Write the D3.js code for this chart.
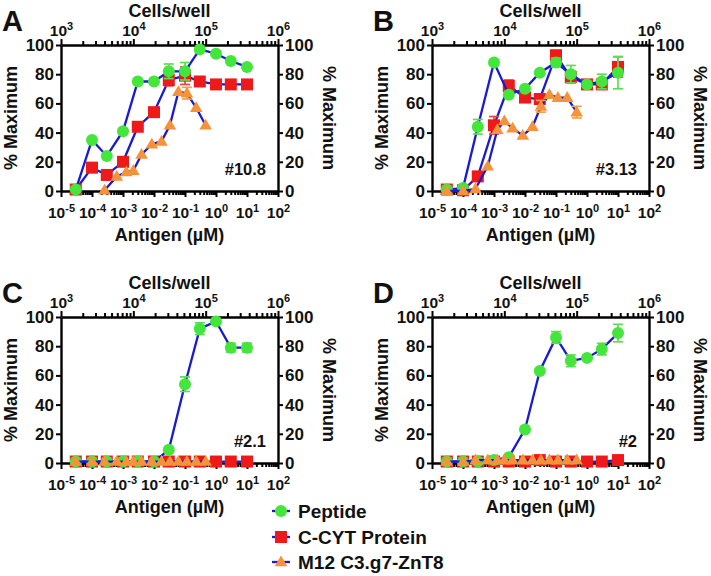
<!DOCTYPE html>
<html><head><meta charset="utf-8">
<script src="https://cdn.jsdelivr.net/npm/d3@7"></script>
<style>
body{margin:0;background:#fff}
text{font-family:"Liberation Sans",Arial,Helvetica,sans-serif;font-weight:bold;fill:#111}
</style>
</head><body>
<svg id="chart" width="711" height="576"></svg>
<script>
// ---------- data ----------
const antigenConc = [3e-5,1e-4,3e-4,1e-3,3e-3,1e-2,3e-2,1e-1,3e-1,1,3,10];
const cellsPerWell = [1600,2700,4000,5900,8000,10000,13000,18000,24500,32000,42000,55000,74000,100000];

const peptideA    = [1,35,24,41,75,75,82,82,97,94,89,85];
const peptideAErr = [0,0,0,0,0,0,5,6,0,0,0,0];
const cytA        = [1,16,11,20,44,54,76,79,75,73,73,73];
const cytAErr     = [0,0,0,0,0,0,4,6,0,3,0,0];
const m12A        = [null,null,0.5,10,13,14,25,32,34,45,68,67,57,45];
const m12AErr     = [0,0,0,0,0,0,0,0,0,0,0,4,0,0];

const peptideB    = [1,2,44,88,66,70,81,88,80,73,75,81];
const peptideBErr = [0,0,5,0,0,0,0,3,6,0,5,11];
const cytB        = [1,0.5,10,45,72,64,63,93,78,73,73,85];
const cytBErr     = [0,0,0,6,4,0,3,3,4,0,0,7];
const m12B        = [0,0,1.5,17,42,48,43,38,44,58,66,64,64,54];
const m12BErr     = [0,0,0,0,0,0,0,0,0,4,0,0,0,4];

const peptideC    = [1,1,1,1,1,1,9,54,92,97,79,79];
const peptideCErr = [0,0,0,0,0,0,0,5,4,0,3,3];
const cytC        = [1,1,1,1,1,1,1,1,1,1,1,1];
const cytCErr     = [0,0,0,0,0,0,0,0,0,0,0,0];
const m12C        = [1,1,1,1,1,1,1,1,1,1,1,1,1,1];
const m12CErr     = [0,0,0,0,0,0,0,0,0,0,0,0,0,0];

const peptideD    = [1,1,1,2,4,23,63,86,70,72,78,89];
const peptideDErr = [0,0,0,0,0,0,0,4,4,0,4,6];
const cytD        = [1,1,1,1,1,1,2,1,1,1,1,2];
const cytDErr     = [0,0,0,0,0,0,0,0,0,0,0,0];
const m12D        = [1,1,2,2,2,2,2,2,2,2,2,2,2,2];
const m12DErr     = [0,0,0,0,0,0,0,0,0,0,0,0,0,0];

const seriesNames   = ["Peptide","C-CYT Protein","M12 C3.g7-ZnT8"];
const panelLetters  = ["A","B","C","D"];
const cloneLabels   = ["#10.8","#3.13","#2.1","#2"];
const antigenExps   = [-5,-4,-3,-2,-1,0,1,2];
const cellExps      = [3,4,5,6];
const yTicks        = [0,20,40,60,80,100];

// ---------- style ----------
const BLUE = "#1a1ad0";
const GREEN = "#44e63c", GREEN_ERR = "#5fdc55";
const RED = "#ee1a1a", RED_ERR = "#f04040";
const ORANGE = "#f5923a", ORANGE_ERR = "#f5a050";
const W = 217, H = 146;

const svg = d3.select("#chart");

const panels = [
  {x:61, y:45, pep:peptideA, pepE:peptideAErr, cyt:cytA, cytE:cytAErr, m12:m12A, m12E:m12AErr},
  {x:432,y:45, pep:peptideB, pepE:peptideBErr, cyt:cytB, cytE:cytBErr, m12:m12B, m12E:m12BErr},
  {x:61, y:317,pep:peptideC, pepE:peptideCErr, cyt:cytC, cytE:cytCErr, m12:m12C, m12E:m12CErr},
  {x:432,y:317,pep:peptideD, pepE:peptideDErr, cyt:cytD, cytE:cytDErr, m12:m12D, m12E:m12DErr}
];

function minorTicks(exps){
  const out=[];
  for(let i=0;i<exps.length-1;i++) for(let k=2;k<=9;k++) out.push(k*Math.pow(10,exps[i]));
  return out;
}

function marker(sel, kind, size){
  if(kind==="circle"){
    sel.append("circle").attr("r",size/2).attr("fill",GREEN);
  } else if(kind==="square"){
    sel.append("rect").attr("x",-size/2).attr("y",-size/2).attr("width",size).attr("height",size).attr("fill",RED);
  } else {
    const h=size*0.9, w=size*1.05;
    sel.append("path").attr("d",`M0,${-h*0.6}L${w/2},${h*0.4}L${-w/2},${h*0.4}Z`).attr("fill",ORANGE);
  }
}

function powLabel(textSel, exp){
  textSel.text(null);
  textSel.append("tspan").attr("font-size","15.5px").text("10");
  textSel.append("tspan").attr("font-size","11px").attr("dy","-6").text(exp<0?"-"+Math.abs(exp):String(exp));
}

panels.forEach((p,pi)=>{
  const g = svg.append("g").attr("transform",`translate(${p.x},${p.y})`);
  const x  = d3.scaleLog().domain([Math.pow(10,antigenExps[0]),Math.pow(10,antigenExps[antigenExps.length-1])]).range([0,W]);
  const xt = d3.scaleLog().domain([Math.pow(10,cellExps[0]),Math.pow(10,cellExps[cellExps.length-1])]).range([0,W]);
  const y  = d3.scaleLinear().domain([0,100]).range([H,0]);

  // bottom axis
  g.append("g").attr("transform",`translate(0,${H})`)
    .call(d3.axisBottom(x).tickValues(minorTicks(antigenExps)).tickSize(4).tickFormat("")).select(".domain").remove();
  const gbM = g.append("g").attr("transform",`translate(0,${H})`)
    .call(d3.axisBottom(x).tickValues(antigenExps.map(e=>Math.pow(10,e))).tickSize(6).tickSizeOuter(0).tickPadding(4));
  gbM.attr("font-size",null);
  gbM.selectAll(".tick text").each(function(d,i){ powLabel(d3.select(this), antigenExps[i]); })
    .attr("dy","1.05em");

  // top axis
  g.append("g").call(d3.axisTop(xt).tickValues(minorTicks(cellExps)).tickSize(4).tickFormat("")).select(".domain").remove();
  const gtM = g.append("g").call(d3.axisTop(xt).tickValues(cellExps.map(e=>Math.pow(10,e))).tickSize(6).tickSizeOuter(0).tickPadding(3));
  gtM.attr("font-size",null);
  gtM.selectAll(".tick text").each(function(d,i){ powLabel(d3.select(this), cellExps[i]); });

  // left / right axes
  const gl = g.append("g").call(d3.axisLeft(y).tickValues(yTicks).tickSize(5).tickSizeOuter(0).tickPadding(2));
  const gr = g.append("g").attr("transform",`translate(${W},0)`).call(d3.axisRight(y).tickValues(yTicks).tickSize(5).tickSizeOuter(0).tickPadding(2));
  [gl,gr].forEach(a=>{ a.attr("font-size",null); a.selectAll(".tick text").attr("font-size","17px"); });

  g.selectAll(".domain").attr("stroke","#000").attr("stroke-width",2.4);
  g.selectAll(".tick line").attr("stroke","#000").attr("stroke-width",2);
  g.selectAll("g").attr("font-family",null);
  g.selectAll(".tick text").attr("fill","#111");

  // titles
  g.append("text").attr("x",W/2).attr("y",-28).attr("text-anchor","middle").attr("font-size","18px").text("Cells/well");
  g.append("text").attr("x",W/2).attr("y",H+50).attr("text-anchor","middle").attr("font-size","18px").text("Antigen (µM)");
  g.append("text").attr("transform",`translate(-44,${H/2}) rotate(-90)`).attr("text-anchor","middle").attr("font-size","18px").text("% Maximum");
  g.append("text").attr("transform",`translate(${W+45},${H/2}) rotate(90)`).attr("text-anchor","middle").attr("font-size","18px").text("% Maximum");
  g.append("text").attr("x",-59).attr("y",-14).attr("font-size","29px").text(panelLetters[pi]);
  g.append("text").attr("x",W-12).attr("y",H-16).attr("text-anchor","end").attr("font-size","16.5px").text(cloneLabels[pi]);

  // series (draw order: C-CYT, Peptide, M12)
  const series = [
    {xs:antigenConc,  sx:x,  v:p.cyt, e:p.cytE, kind:"square",   ec:RED_ERR},
    {xs:antigenConc,  sx:x,  v:p.pep, e:p.pepE, kind:"circle",   ec:GREEN_ERR},
    {xs:cellsPerWell, sx:xt, v:p.m12, e:p.m12E, kind:"triangle", ec:ORANGE_ERR}
  ];
  series.forEach(s=>{
    const pts = s.xs.map((xv,i)=>({x:xv,y:s.v[i],e:s.e[i]})).filter(d=>d.y!=null);
    const sg = g.append("g");
    sg.append("path").datum(pts)
      .attr("d",d3.line().x(d=>s.sx(d.x)).y(d=>y(d.y)))
      .attr("fill","none").attr("stroke",BLUE).attr("stroke-width",2.3);
    const eb = sg.selectAll(".eb").data(pts.filter(d=>d.e>0)).enter().append("g")
      .attr("stroke",s.ec).attr("stroke-width",1.7);
    eb.append("line").attr("x1",d=>s.sx(d.x)).attr("x2",d=>s.sx(d.x)).attr("y1",d=>y(d.y-d.e)).attr("y2",d=>y(d.y+d.e));
    eb.append("line").attr("x1",d=>s.sx(d.x)-5).attr("x2",d=>s.sx(d.x)+5).attr("y1",d=>y(d.y-d.e)).attr("y2",d=>y(d.y-d.e));
    eb.append("line").attr("x1",d=>s.sx(d.x)-5).attr("x2",d=>s.sx(d.x)+5).attr("y1",d=>y(d.y+d.e)).attr("y2",d=>y(d.y+d.e));
    sg.selectAll(".mk").data(pts).enter().append("g")
      .attr("transform",d=>`translate(${s.sx(d.x)},${y(d.y)})`)
      .each(function(){ marker(d3.select(this), s.kind, 12); });
  });
});

// legend
const legKinds = ["circle","square","triangle"];
const legY = [511,537,562];
seriesNames.forEach((name,i)=>{
  const lg = svg.append("g").attr("transform",`translate(281,${legY[i]})`);
  lg.append("line").attr("x1",-9).attr("x2",9).attr("stroke",BLUE).attr("stroke-width",2.3);
  marker(lg, legKinds[i], 12);
  lg.append("text").attr("x",17).attr("y",7).attr("font-size","19px").text(name);
});
</script>
</body></html>
